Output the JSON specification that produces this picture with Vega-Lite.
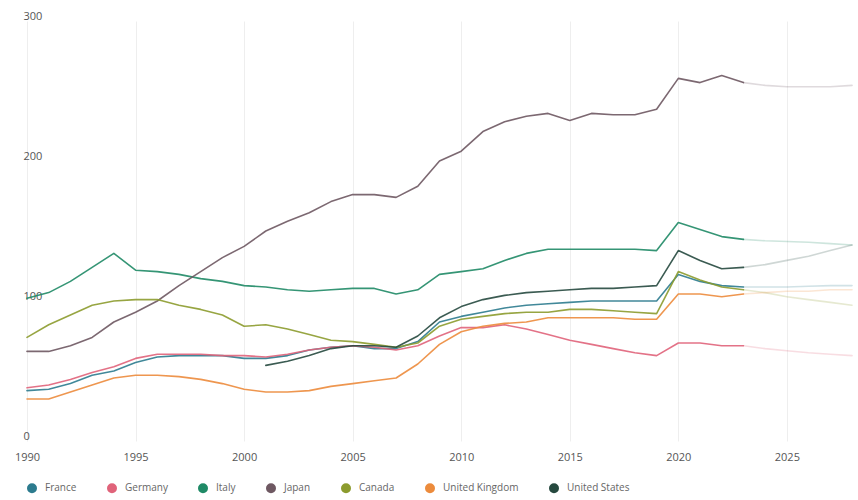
{
  "$schema": "https://vega.github.io/schema/vega-lite/v6.json",
  "width": 825,
  "height": 420,
  "autosize": {"type": "none"},
  "padding": {"left": 27, "top": 21, "right": 6, "bottom": 59},
  "background": "#ffffff",
  "config": {
    "view": {"stroke": null},
    "font": "Open Sans",
    "axis": {"labelFont": "Open Sans", "labelColor": "#555555", "labelFontSize": 11}
  },
  "data": {
    "values": [
      {"country": "France", "year": 1990, "debt": 36, "phase": "Actual"},
      {"country": "France", "year": 1991, "debt": 37, "phase": "Actual"},
      {"country": "France", "year": 1992, "debt": 41, "phase": "Actual"},
      {"country": "France", "year": 1993, "debt": 47, "phase": "Actual"},
      {"country": "France", "year": 1994, "debt": 50, "phase": "Actual"},
      {"country": "France", "year": 1995, "debt": 56, "phase": "Actual"},
      {"country": "France", "year": 1996, "debt": 60, "phase": "Actual"},
      {"country": "France", "year": 1997, "debt": 61, "phase": "Actual"},
      {"country": "France", "year": 1998, "debt": 61, "phase": "Actual"},
      {"country": "France", "year": 1999, "debt": 61, "phase": "Actual"},
      {"country": "France", "year": 2000, "debt": 59, "phase": "Actual"},
      {"country": "France", "year": 2001, "debt": 59, "phase": "Actual"},
      {"country": "France", "year": 2002, "debt": 61, "phase": "Actual"},
      {"country": "France", "year": 2003, "debt": 65, "phase": "Actual"},
      {"country": "France", "year": 2004, "debt": 67, "phase": "Actual"},
      {"country": "France", "year": 2005, "debt": 68, "phase": "Actual"},
      {"country": "France", "year": 2006, "debt": 66, "phase": "Actual"},
      {"country": "France", "year": 2007, "debt": 66, "phase": "Actual"},
      {"country": "France", "year": 2008, "debt": 71, "phase": "Actual"},
      {"country": "France", "year": 2009, "debt": 85, "phase": "Actual"},
      {"country": "France", "year": 2010, "debt": 89, "phase": "Actual"},
      {"country": "France", "year": 2011, "debt": 92, "phase": "Actual"},
      {"country": "France", "year": 2012, "debt": 95, "phase": "Actual"},
      {"country": "France", "year": 2013, "debt": 97, "phase": "Actual"},
      {"country": "France", "year": 2014, "debt": 98, "phase": "Actual"},
      {"country": "France", "year": 2015, "debt": 99, "phase": "Actual"},
      {"country": "France", "year": 2016, "debt": 100, "phase": "Actual"},
      {"country": "France", "year": 2017, "debt": 100, "phase": "Actual"},
      {"country": "France", "year": 2018, "debt": 100, "phase": "Actual"},
      {"country": "France", "year": 2019, "debt": 100, "phase": "Actual"},
      {"country": "France", "year": 2020, "debt": 119, "phase": "Actual"},
      {"country": "France", "year": 2021, "debt": 114, "phase": "Actual"},
      {"country": "France", "year": 2022, "debt": 111, "phase": "Actual"},
      {"country": "France", "year": 2023, "debt": 110, "phase": "Actual"},
      {"country": "France", "year": 2023, "debt": 110, "phase": "Forecast"},
      {"country": "France", "year": 2024, "debt": 110, "phase": "Forecast"},
      {"country": "France", "year": 2025, "debt": 110, "phase": "Forecast"},
      {"country": "France", "year": 2026, "debt": 110.5, "phase": "Forecast"},
      {"country": "France", "year": 2027, "debt": 111, "phase": "Forecast"},
      {"country": "France", "year": 2028, "debt": 111, "phase": "Forecast"},

      {"country": "Germany", "year": 1990, "debt": 38, "phase": "Actual"},
      {"country": "Germany", "year": 1991, "debt": 40, "phase": "Actual"},
      {"country": "Germany", "year": 1992, "debt": 44, "phase": "Actual"},
      {"country": "Germany", "year": 1993, "debt": 49, "phase": "Actual"},
      {"country": "Germany", "year": 1994, "debt": 53, "phase": "Actual"},
      {"country": "Germany", "year": 1995, "debt": 59, "phase": "Actual"},
      {"country": "Germany", "year": 1996, "debt": 62, "phase": "Actual"},
      {"country": "Germany", "year": 1997, "debt": 62, "phase": "Actual"},
      {"country": "Germany", "year": 1998, "debt": 62, "phase": "Actual"},
      {"country": "Germany", "year": 1999, "debt": 61, "phase": "Actual"},
      {"country": "Germany", "year": 2000, "debt": 61, "phase": "Actual"},
      {"country": "Germany", "year": 2001, "debt": 60, "phase": "Actual"},
      {"country": "Germany", "year": 2002, "debt": 62, "phase": "Actual"},
      {"country": "Germany", "year": 2003, "debt": 65, "phase": "Actual"},
      {"country": "Germany", "year": 2004, "debt": 67, "phase": "Actual"},
      {"country": "Germany", "year": 2005, "debt": 68, "phase": "Actual"},
      {"country": "Germany", "year": 2006, "debt": 67, "phase": "Actual"},
      {"country": "Germany", "year": 2007, "debt": 65, "phase": "Actual"},
      {"country": "Germany", "year": 2008, "debt": 68, "phase": "Actual"},
      {"country": "Germany", "year": 2009, "debt": 75, "phase": "Actual"},
      {"country": "Germany", "year": 2010, "debt": 81, "phase": "Actual"},
      {"country": "Germany", "year": 2011, "debt": 81, "phase": "Actual"},
      {"country": "Germany", "year": 2012, "debt": 83, "phase": "Actual"},
      {"country": "Germany", "year": 2013, "debt": 80, "phase": "Actual"},
      {"country": "Germany", "year": 2014, "debt": 76, "phase": "Actual"},
      {"country": "Germany", "year": 2015, "debt": 72, "phase": "Actual"},
      {"country": "Germany", "year": 2016, "debt": 69, "phase": "Actual"},
      {"country": "Germany", "year": 2017, "debt": 66, "phase": "Actual"},
      {"country": "Germany", "year": 2018, "debt": 63, "phase": "Actual"},
      {"country": "Germany", "year": 2019, "debt": 61, "phase": "Actual"},
      {"country": "Germany", "year": 2020, "debt": 70, "phase": "Actual"},
      {"country": "Germany", "year": 2021, "debt": 70, "phase": "Actual"},
      {"country": "Germany", "year": 2022, "debt": 68, "phase": "Actual"},
      {"country": "Germany", "year": 2023, "debt": 68, "phase": "Actual"},
      {"country": "Germany", "year": 2023, "debt": 68, "phase": "Forecast"},
      {"country": "Germany", "year": 2024, "debt": 66, "phase": "Forecast"},
      {"country": "Germany", "year": 2025, "debt": 64.5, "phase": "Forecast"},
      {"country": "Germany", "year": 2026, "debt": 63, "phase": "Forecast"},
      {"country": "Germany", "year": 2027, "debt": 62, "phase": "Forecast"},
      {"country": "Germany", "year": 2028, "debt": 61, "phase": "Forecast"},

      {"country": "Italy", "year": 1990, "debt": 102, "phase": "Actual"},
      {"country": "Italy", "year": 1991, "debt": 106, "phase": "Actual"},
      {"country": "Italy", "year": 1992, "debt": 114, "phase": "Actual"},
      {"country": "Italy", "year": 1993, "debt": 124, "phase": "Actual"},
      {"country": "Italy", "year": 1994, "debt": 134, "phase": "Actual"},
      {"country": "Italy", "year": 1995, "debt": 122, "phase": "Actual"},
      {"country": "Italy", "year": 1996, "debt": 121, "phase": "Actual"},
      {"country": "Italy", "year": 1997, "debt": 119, "phase": "Actual"},
      {"country": "Italy", "year": 1998, "debt": 116, "phase": "Actual"},
      {"country": "Italy", "year": 1999, "debt": 114, "phase": "Actual"},
      {"country": "Italy", "year": 2000, "debt": 111, "phase": "Actual"},
      {"country": "Italy", "year": 2001, "debt": 110, "phase": "Actual"},
      {"country": "Italy", "year": 2002, "debt": 108, "phase": "Actual"},
      {"country": "Italy", "year": 2003, "debt": 107, "phase": "Actual"},
      {"country": "Italy", "year": 2004, "debt": 108, "phase": "Actual"},
      {"country": "Italy", "year": 2005, "debt": 109, "phase": "Actual"},
      {"country": "Italy", "year": 2006, "debt": 109, "phase": "Actual"},
      {"country": "Italy", "year": 2007, "debt": 105, "phase": "Actual"},
      {"country": "Italy", "year": 2008, "debt": 108, "phase": "Actual"},
      {"country": "Italy", "year": 2009, "debt": 119, "phase": "Actual"},
      {"country": "Italy", "year": 2010, "debt": 121, "phase": "Actual"},
      {"country": "Italy", "year": 2011, "debt": 123, "phase": "Actual"},
      {"country": "Italy", "year": 2012, "debt": 129, "phase": "Actual"},
      {"country": "Italy", "year": 2013, "debt": 134, "phase": "Actual"},
      {"country": "Italy", "year": 2014, "debt": 137, "phase": "Actual"},
      {"country": "Italy", "year": 2015, "debt": 137, "phase": "Actual"},
      {"country": "Italy", "year": 2016, "debt": 137, "phase": "Actual"},
      {"country": "Italy", "year": 2017, "debt": 137, "phase": "Actual"},
      {"country": "Italy", "year": 2018, "debt": 137, "phase": "Actual"},
      {"country": "Italy", "year": 2019, "debt": 136, "phase": "Actual"},
      {"country": "Italy", "year": 2020, "debt": 156, "phase": "Actual"},
      {"country": "Italy", "year": 2021, "debt": 151, "phase": "Actual"},
      {"country": "Italy", "year": 2022, "debt": 146, "phase": "Actual"},
      {"country": "Italy", "year": 2023, "debt": 144, "phase": "Actual"},
      {"country": "Italy", "year": 2023, "debt": 144, "phase": "Forecast"},
      {"country": "Italy", "year": 2024, "debt": 143, "phase": "Forecast"},
      {"country": "Italy", "year": 2025, "debt": 142.5, "phase": "Forecast"},
      {"country": "Italy", "year": 2026, "debt": 142, "phase": "Forecast"},
      {"country": "Italy", "year": 2027, "debt": 141, "phase": "Forecast"},
      {"country": "Italy", "year": 2028, "debt": 140, "phase": "Forecast"},

      {"country": "Japan", "year": 1990, "debt": 64, "phase": "Actual"},
      {"country": "Japan", "year": 1991, "debt": 64, "phase": "Actual"},
      {"country": "Japan", "year": 1992, "debt": 68, "phase": "Actual"},
      {"country": "Japan", "year": 1993, "debt": 74, "phase": "Actual"},
      {"country": "Japan", "year": 1994, "debt": 85, "phase": "Actual"},
      {"country": "Japan", "year": 1995, "debt": 92, "phase": "Actual"},
      {"country": "Japan", "year": 1996, "debt": 100, "phase": "Actual"},
      {"country": "Japan", "year": 1997, "debt": 111, "phase": "Actual"},
      {"country": "Japan", "year": 1998, "debt": 121, "phase": "Actual"},
      {"country": "Japan", "year": 1999, "debt": 131, "phase": "Actual"},
      {"country": "Japan", "year": 2000, "debt": 139, "phase": "Actual"},
      {"country": "Japan", "year": 2001, "debt": 150, "phase": "Actual"},
      {"country": "Japan", "year": 2002, "debt": 157, "phase": "Actual"},
      {"country": "Japan", "year": 2003, "debt": 163, "phase": "Actual"},
      {"country": "Japan", "year": 2004, "debt": 171, "phase": "Actual"},
      {"country": "Japan", "year": 2005, "debt": 176, "phase": "Actual"},
      {"country": "Japan", "year": 2006, "debt": 176, "phase": "Actual"},
      {"country": "Japan", "year": 2007, "debt": 174, "phase": "Actual"},
      {"country": "Japan", "year": 2008, "debt": 182, "phase": "Actual"},
      {"country": "Japan", "year": 2009, "debt": 200, "phase": "Actual"},
      {"country": "Japan", "year": 2010, "debt": 207, "phase": "Actual"},
      {"country": "Japan", "year": 2011, "debt": 221, "phase": "Actual"},
      {"country": "Japan", "year": 2012, "debt": 228, "phase": "Actual"},
      {"country": "Japan", "year": 2013, "debt": 232, "phase": "Actual"},
      {"country": "Japan", "year": 2014, "debt": 234, "phase": "Actual"},
      {"country": "Japan", "year": 2015, "debt": 229, "phase": "Actual"},
      {"country": "Japan", "year": 2016, "debt": 234, "phase": "Actual"},
      {"country": "Japan", "year": 2017, "debt": 233, "phase": "Actual"},
      {"country": "Japan", "year": 2018, "debt": 233, "phase": "Actual"},
      {"country": "Japan", "year": 2019, "debt": 237, "phase": "Actual"},
      {"country": "Japan", "year": 2020, "debt": 259, "phase": "Actual"},
      {"country": "Japan", "year": 2021, "debt": 256, "phase": "Actual"},
      {"country": "Japan", "year": 2022, "debt": 261, "phase": "Actual"},
      {"country": "Japan", "year": 2023, "debt": 256, "phase": "Actual"},
      {"country": "Japan", "year": 2023, "debt": 256, "phase": "Forecast"},
      {"country": "Japan", "year": 2024, "debt": 254, "phase": "Forecast"},
      {"country": "Japan", "year": 2025, "debt": 253, "phase": "Forecast"},
      {"country": "Japan", "year": 2026, "debt": 253, "phase": "Forecast"},
      {"country": "Japan", "year": 2027, "debt": 253, "phase": "Forecast"},
      {"country": "Japan", "year": 2028, "debt": 254, "phase": "Forecast"},

      {"country": "Canada", "year": 1990, "debt": 74, "phase": "Actual"},
      {"country": "Canada", "year": 1991, "debt": 83, "phase": "Actual"},
      {"country": "Canada", "year": 1992, "debt": 90, "phase": "Actual"},
      {"country": "Canada", "year": 1993, "debt": 97, "phase": "Actual"},
      {"country": "Canada", "year": 1994, "debt": 100, "phase": "Actual"},
      {"country": "Canada", "year": 1995, "debt": 101, "phase": "Actual"},
      {"country": "Canada", "year": 1996, "debt": 101, "phase": "Actual"},
      {"country": "Canada", "year": 1997, "debt": 97, "phase": "Actual"},
      {"country": "Canada", "year": 1998, "debt": 94, "phase": "Actual"},
      {"country": "Canada", "year": 1999, "debt": 90, "phase": "Actual"},
      {"country": "Canada", "year": 2000, "debt": 82, "phase": "Actual"},
      {"country": "Canada", "year": 2001, "debt": 83, "phase": "Actual"},
      {"country": "Canada", "year": 2002, "debt": 80, "phase": "Actual"},
      {"country": "Canada", "year": 2003, "debt": 76, "phase": "Actual"},
      {"country": "Canada", "year": 2004, "debt": 72, "phase": "Actual"},
      {"country": "Canada", "year": 2005, "debt": 71, "phase": "Actual"},
      {"country": "Canada", "year": 2006, "debt": 69, "phase": "Actual"},
      {"country": "Canada", "year": 2007, "debt": 67, "phase": "Actual"},
      {"country": "Canada", "year": 2008, "debt": 70, "phase": "Actual"},
      {"country": "Canada", "year": 2009, "debt": 82, "phase": "Actual"},
      {"country": "Canada", "year": 2010, "debt": 87, "phase": "Actual"},
      {"country": "Canada", "year": 2011, "debt": 89, "phase": "Actual"},
      {"country": "Canada", "year": 2012, "debt": 91, "phase": "Actual"},
      {"country": "Canada", "year": 2013, "debt": 92, "phase": "Actual"},
      {"country": "Canada", "year": 2014, "debt": 92, "phase": "Actual"},
      {"country": "Canada", "year": 2015, "debt": 94, "phase": "Actual"},
      {"country": "Canada", "year": 2016, "debt": 94, "phase": "Actual"},
      {"country": "Canada", "year": 2017, "debt": 93, "phase": "Actual"},
      {"country": "Canada", "year": 2018, "debt": 92, "phase": "Actual"},
      {"country": "Canada", "year": 2019, "debt": 91, "phase": "Actual"},
      {"country": "Canada", "year": 2020, "debt": 121, "phase": "Actual"},
      {"country": "Canada", "year": 2021, "debt": 115, "phase": "Actual"},
      {"country": "Canada", "year": 2022, "debt": 110, "phase": "Actual"},
      {"country": "Canada", "year": 2023, "debt": 108, "phase": "Actual"},
      {"country": "Canada", "year": 2023, "debt": 108, "phase": "Forecast"},
      {"country": "Canada", "year": 2024, "debt": 106, "phase": "Forecast"},
      {"country": "Canada", "year": 2025, "debt": 103, "phase": "Forecast"},
      {"country": "Canada", "year": 2026, "debt": 101, "phase": "Forecast"},
      {"country": "Canada", "year": 2027, "debt": 99, "phase": "Forecast"},
      {"country": "Canada", "year": 2028, "debt": 97, "phase": "Forecast"},

      {"country": "United Kingdom", "year": 1990, "debt": 30, "phase": "Actual"},
      {"country": "United Kingdom", "year": 1991, "debt": 30, "phase": "Actual"},
      {"country": "United Kingdom", "year": 1992, "debt": 35, "phase": "Actual"},
      {"country": "United Kingdom", "year": 1993, "debt": 40, "phase": "Actual"},
      {"country": "United Kingdom", "year": 1994, "debt": 45, "phase": "Actual"},
      {"country": "United Kingdom", "year": 1995, "debt": 47, "phase": "Actual"},
      {"country": "United Kingdom", "year": 1996, "debt": 47, "phase": "Actual"},
      {"country": "United Kingdom", "year": 1997, "debt": 46, "phase": "Actual"},
      {"country": "United Kingdom", "year": 1998, "debt": 44, "phase": "Actual"},
      {"country": "United Kingdom", "year": 1999, "debt": 41, "phase": "Actual"},
      {"country": "United Kingdom", "year": 2000, "debt": 37, "phase": "Actual"},
      {"country": "United Kingdom", "year": 2001, "debt": 35, "phase": "Actual"},
      {"country": "United Kingdom", "year": 2002, "debt": 35, "phase": "Actual"},
      {"country": "United Kingdom", "year": 2003, "debt": 36, "phase": "Actual"},
      {"country": "United Kingdom", "year": 2004, "debt": 39, "phase": "Actual"},
      {"country": "United Kingdom", "year": 2005, "debt": 41, "phase": "Actual"},
      {"country": "United Kingdom", "year": 2006, "debt": 43, "phase": "Actual"},
      {"country": "United Kingdom", "year": 2007, "debt": 45, "phase": "Actual"},
      {"country": "United Kingdom", "year": 2008, "debt": 55, "phase": "Actual"},
      {"country": "United Kingdom", "year": 2009, "debt": 69, "phase": "Actual"},
      {"country": "United Kingdom", "year": 2010, "debt": 78, "phase": "Actual"},
      {"country": "United Kingdom", "year": 2011, "debt": 82, "phase": "Actual"},
      {"country": "United Kingdom", "year": 2012, "debt": 84, "phase": "Actual"},
      {"country": "United Kingdom", "year": 2013, "debt": 85, "phase": "Actual"},
      {"country": "United Kingdom", "year": 2014, "debt": 88, "phase": "Actual"},
      {"country": "United Kingdom", "year": 2015, "debt": 88, "phase": "Actual"},
      {"country": "United Kingdom", "year": 2016, "debt": 88, "phase": "Actual"},
      {"country": "United Kingdom", "year": 2017, "debt": 88, "phase": "Actual"},
      {"country": "United Kingdom", "year": 2018, "debt": 87, "phase": "Actual"},
      {"country": "United Kingdom", "year": 2019, "debt": 87, "phase": "Actual"},
      {"country": "United Kingdom", "year": 2020, "debt": 105, "phase": "Actual"},
      {"country": "United Kingdom", "year": 2021, "debt": 105, "phase": "Actual"},
      {"country": "United Kingdom", "year": 2022, "debt": 103, "phase": "Actual"},
      {"country": "United Kingdom", "year": 2023, "debt": 105, "phase": "Actual"},
      {"country": "United Kingdom", "year": 2023, "debt": 105, "phase": "Forecast"},
      {"country": "United Kingdom", "year": 2024, "debt": 106, "phase": "Forecast"},
      {"country": "United Kingdom", "year": 2025, "debt": 107, "phase": "Forecast"},
      {"country": "United Kingdom", "year": 2026, "debt": 107, "phase": "Forecast"},
      {"country": "United Kingdom", "year": 2027, "debt": 108, "phase": "Forecast"},
      {"country": "United Kingdom", "year": 2028, "debt": 108, "phase": "Forecast"},

      {"country": "United States", "year": 2001, "debt": 54, "phase": "Actual"},
      {"country": "United States", "year": 2002, "debt": 57, "phase": "Actual"},
      {"country": "United States", "year": 2003, "debt": 61, "phase": "Actual"},
      {"country": "United States", "year": 2004, "debt": 66, "phase": "Actual"},
      {"country": "United States", "year": 2005, "debt": 68, "phase": "Actual"},
      {"country": "United States", "year": 2006, "debt": 68, "phase": "Actual"},
      {"country": "United States", "year": 2007, "debt": 67, "phase": "Actual"},
      {"country": "United States", "year": 2008, "debt": 75, "phase": "Actual"},
      {"country": "United States", "year": 2009, "debt": 88, "phase": "Actual"},
      {"country": "United States", "year": 2010, "debt": 96, "phase": "Actual"},
      {"country": "United States", "year": 2011, "debt": 101, "phase": "Actual"},
      {"country": "United States", "year": 2012, "debt": 104, "phase": "Actual"},
      {"country": "United States", "year": 2013, "debt": 106, "phase": "Actual"},
      {"country": "United States", "year": 2014, "debt": 107, "phase": "Actual"},
      {"country": "United States", "year": 2015, "debt": 108, "phase": "Actual"},
      {"country": "United States", "year": 2016, "debt": 109, "phase": "Actual"},
      {"country": "United States", "year": 2017, "debt": 109, "phase": "Actual"},
      {"country": "United States", "year": 2018, "debt": 110, "phase": "Actual"},
      {"country": "United States", "year": 2019, "debt": 111, "phase": "Actual"},
      {"country": "United States", "year": 2020, "debt": 136, "phase": "Actual"},
      {"country": "United States", "year": 2021, "debt": 129, "phase": "Actual"},
      {"country": "United States", "year": 2022, "debt": 123, "phase": "Actual"},
      {"country": "United States", "year": 2023, "debt": 124, "phase": "Actual"},
      {"country": "United States", "year": 2023, "debt": 124, "phase": "Forecast"},
      {"country": "United States", "year": 2024, "debt": 126, "phase": "Forecast"},
      {"country": "United States", "year": 2025, "debt": 129, "phase": "Forecast"},
      {"country": "United States", "year": 2026, "debt": 132, "phase": "Forecast"},
      {"country": "United States", "year": 2027, "debt": 136, "phase": "Forecast"},
      {"country": "United States", "year": 2028, "debt": 140, "phase": "Forecast"}
    ]
  },
  "mark": {"type": "line", "strokeWidth": 1.6, "strokeJoin": "round", "strokeCap": "round"},
  "encoding": {
    "x": {
      "field": "year",
      "type": "quantitative",
      "scale": {"domain": [1990, 2028], "nice": false, "zero": false},
      "axis": {
        "title": null,
        "values": [1990, 1995, 2000, 2005, 2010, 2015, 2020, 2025],
        "format": "d",
        "domain": false,
        "ticks": false,
        "tickSize": 0,
        "labelPadding": 16,
        "labelBaseline": "middle",
        "labelFlush": false,
        "grid": true,
        "gridColor": "#eeeeee",
        "gridWidth": 1
      }
    },
    "y": {
      "field": "debt",
      "type": "quantitative",
      "scale": {"domain": [0, 300], "nice": false},
      "axis": {
        "title": null,
        "values": [0, 100, 200, 300],
        "domain": false,
        "ticks": false,
        "tickSize": 0,
        "grid": false,
        "labelAlign": "left",
        "labelBaseline": "bottom",
        "labelPadding": 4,
        "labelFlush": false
      }
    },
    "color": {
      "field": "country",
      "type": "nominal",
      "scale": {
        "domain": ["France", "Germany", "Italy", "Japan", "Canada", "United Kingdom", "United States"],
        "range": ["#2c7b8e", "#e0637a", "#1f8a66", "#6e5862", "#8c9b2e", "#ec8b3c", "#26493f"]
      },
      "legend": {
        "title": null,
        "orient": "none",
        "legendX": 0,
        "legendY": 462,
        "direction": "horizontal",
        "symbolType": "circle",
        "symbolSize": 25,
        "symbolStrokeWidth": 5,
        "symbolOpacity": 1,
        "labelFontSize": 10,
        "labelColor": "#666666",
        "labelFont": "Open Sans",
        "labelOffset": 8,
        "columnPadding": 22,
        "padding": 0
      }
    },
    "detail": {"field": "phase", "type": "nominal"},
    "opacity": {
      "field": "phase",
      "type": "nominal",
      "scale": {"domain": ["Actual", "Forecast"], "range": [0.9, 0.22]},
      "legend": null
    }
  }
}
